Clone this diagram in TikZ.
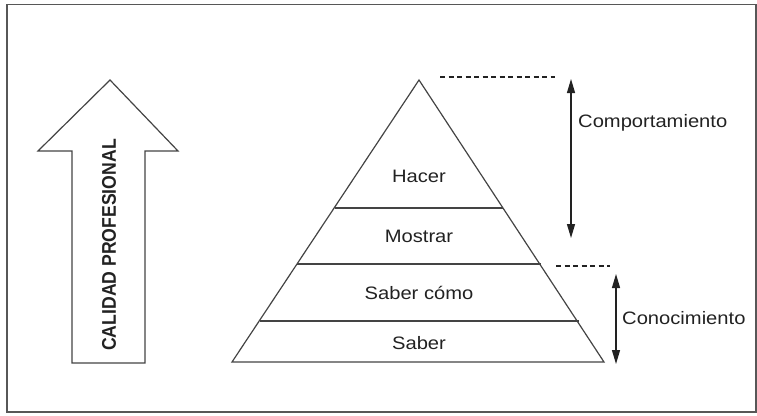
\documentclass[tikz,border=0pt]{standalone}
\usepackage{fontspec}
\setmainfont{Liberation Sans}
\usetikzlibrary{arrows.meta}
\definecolor{ink}{HTML}{222222}
\definecolor{edge}{HTML}{444444}
\tikzset{
  lbl/.style={font=\fontsize{18}{20}\selectfont, text=ink, xscale=1.12, inner sep=0pt},
  sidelbl/.style={lbl, anchor=west},
  lyr/.style={draw=edge, line width=1.2pt},
  dashline/.style={draw=ink, line width=1.1pt, dash pattern=on 5pt off 3.5pt},
  dbl/.style={draw=ink, line width=1.3pt, {Triangle[width=8pt,length=14pt]}-{Triangle[width=8pt,length=14pt]}}
}
\begin{document}
\begin{tikzpicture}[x=1pt,y=-1pt]
\useasboundingbox (0,0) rectangle (757,415);
% frame
\draw[draw=edge!90, line width=1.8pt] (7,4.5) rectangle (756,412);
% big arrow
\draw[draw=edge, line width=1.2pt, fill=white]
  (110,80) -- (178,151) -- (145,151) -- (145,363) -- (72,363) -- (72,151) -- (38,151) -- cycle;
\node[rotate=90, font=\fontsize{18}{20}\selectfont\bfseries, text=ink, yscale=1.1, xscale=0.98, inner sep=0pt] (cp) at (109,245) {CALIDAD PROFESIONAL};
% pyramid
\coordinate (apex) at (419,80);
\coordinate (bl) at (232,362);
\coordinate (br) at (604,362);
\draw[lyr, line join=miter] (apex) -- (bl) -- (br) -- cycle;
\coordinate (l1a) at (334.6,208); \coordinate (l1b) at (503.4,208);
\coordinate (l2a) at (297.3,264); \coordinate (l2b) at (540.7,264);
\coordinate (l3a) at (259.5,321); \coordinate (l3b) at (578.5,321);
\draw[lyr] (l1a) -- (l1b);
\draw[lyr] (l2a) -- (l2b);
\draw[lyr] (l3a) -- (l3b);
\node[lbl] (hacer) at (419,176) {Hacer};
\node[lbl] (mostrar) at (419,236) {Mostrar};
\node[lbl] (sabercomo) at (419,293) {Saber cómo};
\node[lbl] (saber) at (419,343) {Saber};
% dashed guides
\coordinate (d1a) at (440,77); \coordinate (d1b) at (555,77);
\coordinate (d2a) at (556,266); \coordinate (d2b) at (610,266);
\draw[dashline] (d1a) -- (d1b);
\draw[dashline] (d2a) -- (d2b);
% double arrows
\coordinate (a1t) at (571,79); \coordinate (a1b) at (571,238);
\coordinate (a2t) at (616,274); \coordinate (a2b) at (616,364);
\draw[dbl] (a1t) -- (a1b);
\draw[dbl] (a2t) -- (a2b);
\node[sidelbl] (comp) at (578,123) {Comportamiento};
\node[sidelbl] (cono) at (622,318) {Conocimiento};
\end{tikzpicture}
\end{document}
